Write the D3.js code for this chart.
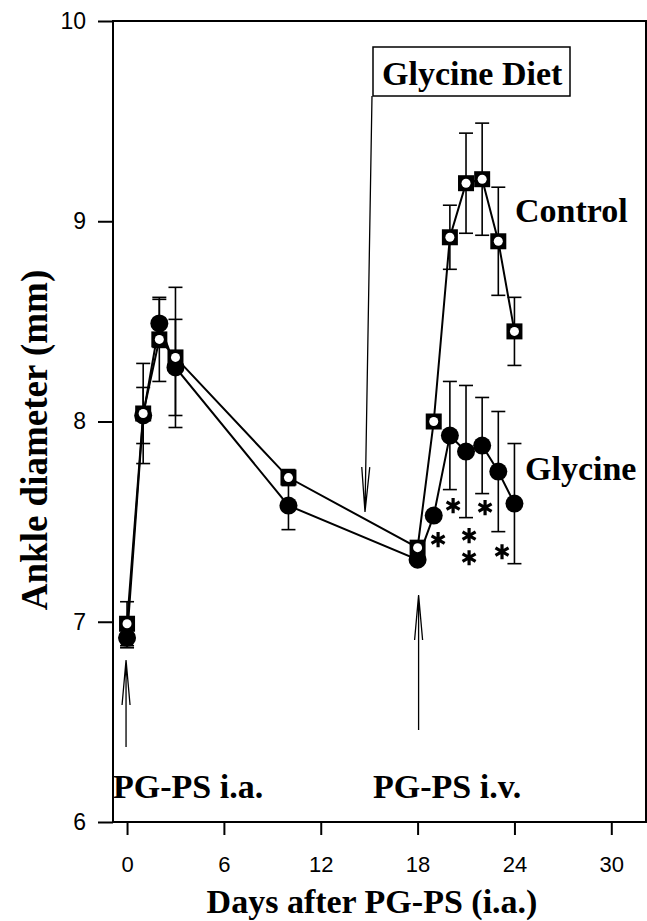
<!DOCTYPE html>
<html><head><meta charset="utf-8">
<script src="https://cdn.jsdelivr.net/npm/d3@7"></script>
<style>body{margin:0;background:#fff}</style>
</head><body>
<svg id="chart" width="647" height="921"></svg>
<script>
// ---- data ----
const days        = [0, 1, 2, 3, 10, 18, 19, 20, 21, 22, 23, 24];
const controlMean = [6.99, 8.04, 8.41, 8.32, 7.72, 7.37, 8.00, 8.92, 9.19, 9.21, 8.90, 8.45];
const controlErr  = [0.11, 0.25, 0.21, 0.35, 0.04, 0, 0, 0.16, 0.25, 0.28, 0.27, 0.17];
const glycineMean = [6.92, 8.03, 8.49, 8.27, 7.58, 7.31, 7.53, 7.93, 7.85, 7.88, 7.75, 7.59];
const glycineErr  = [0.05, 0.14, 0.12, 0.24, 0.12, 0, 0, 0.27, 0.33, 0.24, 0.30, 0.30];
const xTicks = [0, 6, 12, 18, 24, 30];
const yTicks = [6, 7, 8, 9, 10];
// significance asterisks (day, value)
const sigDays   = [19.27, 20.2, 21.19, 21.19, 22.18, 23.23];
const sigValues = [7.41, 7.58, 7.43, 7.32, 7.57, 7.35];

const svg = d3.select("#chart");
const x = d3.scaleLinear().domain([-0.87, 32.15]).range([113, 646]);
const y = d3.scaleLinear().domain([6, 10]).range([822, 21]);
const serif = "'Liberation Serif','Times New Roman',serif";
const sans = "'Liberation Sans',Arial,sans-serif";

// frame
svg.append("rect").attr("x", x.range()[0]).attr("y", y.range()[1])
  .attr("width", x.range()[1] - x.range()[0]).attr("height", y.range()[0] - y.range()[1])
  .attr("fill", "none").attr("stroke", "#000").attr("stroke-width", 2);

// y axis
const ya = svg.append("g").attr("transform", `translate(${x.range()[0]},0)`)
  .call(d3.axisLeft(y).tickValues(yTicks).tickFormat(d3.format("d")).tickSize(15).tickSizeOuter(0).tickPadding(12));
ya.select(".domain").remove();
ya.selectAll("line").attr("stroke-width", 2);
ya.selectAll("text").attr("font-family", sans).attr("font-size", 23).attr("fill", "#000");

// x axis
const xa = svg.append("g").attr("transform", `translate(0,${y.range()[0]})`)
  .call(d3.axisBottom(x).tickValues(xTicks).tickFormat(d3.format("d")).tickSize(13).tickSizeOuter(0).tickPadding(21));
xa.select(".domain").remove();
xa.selectAll("line").attr("stroke-width", 2);
xa.selectAll("text").attr("font-family", sans).attr("font-size", 22).attr("fill", "#000");

// axis titles
svg.append("text").attr("x", 372).attr("y", 913).attr("text-anchor", "middle")
  .attr("font-family", serif).attr("font-weight", "bold").attr("font-size", 34)
  .text("Days after PG-PS (i.a.)");
svg.append("text").attr("transform", "translate(47,440) rotate(-90)").attr("text-anchor", "middle")
  .attr("font-family", serif).attr("font-weight", "bold").attr("font-size", 37)
  .text("Ankle diameter (mm)");

function series(mean, err, kind) {
  const pts = days.map((d, i) => ({d, v: mean[i], e: err[i]}));
  const g = svg.append("g");
  const eb = g.append("g").attr("stroke", "#000").attr("stroke-width", 1.6);
  pts.filter(p => p.e > 0).forEach(p => {
    const cx = x(p.d);
    eb.append("line").attr("x1", cx).attr("x2", cx).attr("y1", y(p.v - p.e)).attr("y2", y(p.v + p.e));
    [p.v - p.e, p.v + p.e].forEach(v => eb.append("line").attr("x1", cx - 7).attr("x2", cx + 7).attr("y1", y(v)).attr("y2", y(v)));
  });
  g.append("path").datum(pts).attr("fill", "none").attr("stroke", "#000").attr("stroke-width", 2)
    .attr("d", d3.line().x(p => x(p.d)).y(p => y(p.v)));
  if (kind === "circle") {
    g.selectAll("circle.m").data(pts).join("circle").attr("class", "m")
      .attr("cx", p => x(p.d)).attr("cy", p => y(p.v)).attr("r", 9).attr("fill", "#000");
  } else {
    g.selectAll("rect.m").data(pts).join("rect").attr("class", "m")
      .attr("x", p => x(p.d) - 8).attr("y", p => y(p.v) - 8).attr("width", 16).attr("height", 16).attr("fill", "#000");
    g.selectAll("circle.w").data(pts).join("circle").attr("class", "w")
      .attr("cx", p => x(p.d)).attr("cy", p => y(p.v)).attr("r", 4.5).attr("fill", "#fff");
  }
}
series(glycineMean, glycineErr, "circle");
series(controlMean, controlErr, "square");

// asterisks
svg.append("g").selectAll("path").data(sigDays.map((d, i) => ({d, v: sigValues[i]}))).join("path")
  .attr("transform", p => `translate(${x(p.d)},${y(p.v)})`)
  .attr("d", d3.symbol(d3.symbolAsterisk, 160))
  .attr("fill", "none").attr("stroke", "#000").attr("stroke-width", 3.2);

// arrows
function arrow(x1, y1, x2, y2) {
  const a = Math.atan2(y2 - y1, x2 - x1), L = 45, w = 4;
  const bx = x2 - L * Math.cos(a), by = y2 - L * Math.sin(a);
  const nx = -Math.sin(a) * w, ny = Math.cos(a) * w;
  svg.append("path").attr("fill", "none").attr("stroke", "#000").attr("stroke-width", 1.3)
    .attr("d", `M${x1},${y1}L${x2},${y2}M${bx + nx},${by + ny}L${x2},${y2}L${bx - nx},${by - ny}`);
}
arrow(x(0) - 1, 747, x(0) - 1, 660);
arrow(x(18) + 1, 730, x(18) + 1, 595);
arrow(372, 96, 365, 512);

// Glycine Diet box
svg.append("rect").attr("x", 373).attr("y", 47).attr("width", 197).attr("height", 49)
  .attr("fill", "#fff").attr("stroke", "#000").attr("stroke-width", 1.5);
const lab = (t, xx, yy) => svg.append("text").attr("x", xx).attr("y", yy)
  .attr("font-family", serif).attr("font-weight", "bold").attr("font-size", 34).text(t);
lab("Glycine Diet", 382, 85);
lab("Control", 515, 222);
lab("Glycine", 525, 480);
lab("PG-PS i.a.", 113, 798);
lab("PG-PS i.v.", 373, 798);
</script>
</body></html>
